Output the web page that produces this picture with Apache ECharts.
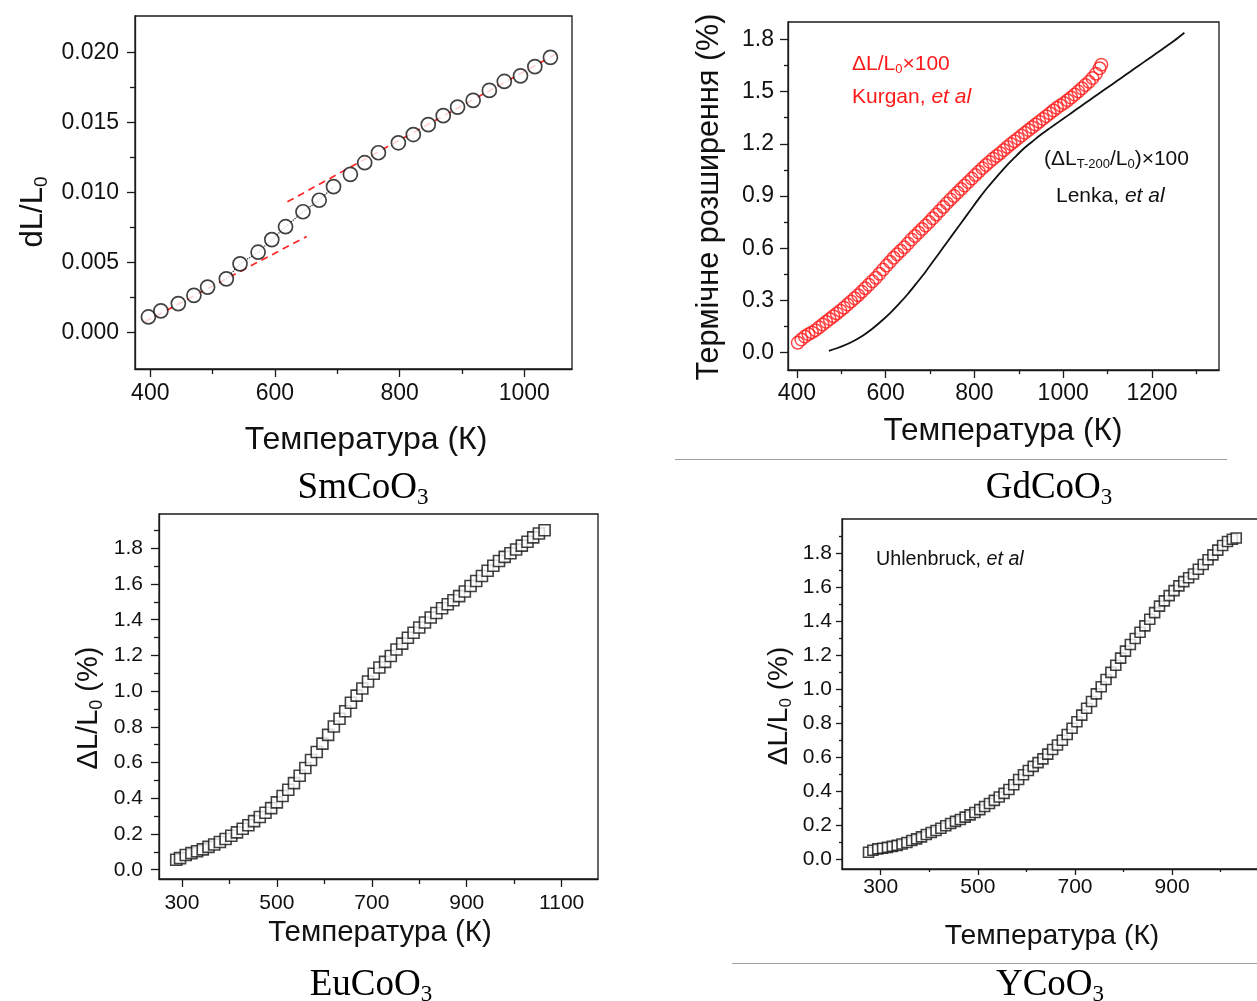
<!DOCTYPE html>
<html><head><meta charset="utf-8">
<script src="https://cdn.jsdelivr.net/npm/echarts@6/dist/echarts.min.js"></script>
<style>html,body{margin:0;padding:0;background:#fff}#c{width:1257px;height:1001px}</style>
</head><body><div id="c"></div>
<script>
// ---------- SmCoO3 ----------
const smT = [397, 417, 445, 470, 492, 522, 544, 573, 595, 617, 645, 671, 694, 721, 744, 766, 798, 822, 846, 870, 893, 918, 944, 968, 994, 1017, 1042];
const smV = [0.00111, 0.00154, 0.00206, 0.00265, 0.00324, 0.00383, 0.00490, 0.00573, 0.00663, 0.00755, 0.00862, 0.00944, 0.01041, 0.01129, 0.01212, 0.01283, 0.01354, 0.01413, 0.01484, 0.01548, 0.01609, 0.01657, 0.01728, 0.01792, 0.01832, 0.01898, 0.01964];
const smFitLowT = [391, 651];
const smFitLowV = [0.00076, 0.00686];
const smFitHighT = [620, 1058];
const smFitHighV = [0.00933, 0.02005];
const smXTicks = [400, 600, 800, 1000];
const smXMinor = [500, 700, 900];
const smYTicks = [0, 0.005, 0.010, 0.015, 0.020];
const smYMinor = [0.0025, 0.0075, 0.0125, 0.0175];

// ---------- GdCoO3 ----------
const gdT = [402, 410, 418, 426, 434, 442, 450, 458, 466, 474, 482, 490, 498, 506, 514, 522, 530, 538, 546, 554, 562, 570, 578, 586, 594, 602, 610, 618, 626, 634, 642, 650, 658, 666, 674, 682, 690, 698, 706, 714, 722, 730, 738, 746, 754, 762, 770, 778, 786, 794, 802, 810, 818, 826, 834, 842, 850, 858, 866, 874, 882, 890, 898, 906, 914, 922, 930, 938, 946, 954, 962, 970, 978, 986, 994, 1002, 1010, 1018, 1026, 1034, 1042, 1050, 1058, 1066, 1074, 1082, 1086];
const gdV = [0.057, 0.075, 0.092, 0.106, 0.116, 0.129, 0.145, 0.161, 0.177, 0.193, 0.209, 0.225, 0.241, 0.258, 0.276, 0.294, 0.312, 0.330, 0.350, 0.370, 0.390, 0.410, 0.430, 0.453, 0.477, 0.500, 0.522, 0.545, 0.565, 0.585, 0.605, 0.627, 0.650, 0.670, 0.690, 0.710, 0.730, 0.750, 0.772, 0.794, 0.815, 0.837, 0.859, 0.880, 0.900, 0.920, 0.940, 0.960, 0.980, 1.000, 1.020, 1.040, 1.060, 1.078, 1.096, 1.114, 1.130, 1.146, 1.164, 1.182, 1.199, 1.215, 1.231, 1.247, 1.263, 1.279, 1.295, 1.311, 1.327, 1.343, 1.359, 1.375, 1.391, 1.407, 1.421, 1.434, 1.450, 1.466, 1.483, 1.501, 1.519, 1.538, 1.556, 1.578, 1.603, 1.634, 1.655];
const lenkaT = [472, 490, 510, 530, 550, 570, 590, 610, 630, 650, 670, 690, 710, 730, 750, 770, 790, 810, 830, 850, 870, 890, 910, 930, 950, 970, 990, 1010, 1030, 1050, 1070, 1090, 1110, 1130, 1150, 1170, 1190, 1210, 1230, 1250, 1273];
const lenkaV = [0.010, 0.025, 0.045, 0.070, 0.100, 0.137, 0.180, 0.227, 0.280, 0.337, 0.400, 0.465, 0.535, 0.605, 0.675, 0.745, 0.815, 0.885, 0.950, 1.010, 1.068, 1.120, 1.170, 1.212, 1.253, 1.290, 1.326, 1.362, 1.398, 1.434, 1.470, 1.506, 1.541, 1.577, 1.613, 1.649, 1.684, 1.720, 1.756, 1.792, 1.838];
const gdXTicks = [400, 600, 800, 1000, 1200];
const gdXMinor = [500, 700, 900, 1100, 1300];
const gdYTicks = [0, 0.3, 0.6, 0.9, 1.2, 1.5, 1.8];
const gdYMinor = [0.15, 0.45, 0.75, 1.05, 1.35, 1.65];

// ---------- EuCoO3 ----------
const euT = [288, 296, 308, 320, 332, 344, 356, 368, 380, 392, 404, 416, 428, 440, 452, 464, 476, 488, 500, 512, 524, 536, 548, 560, 572, 584, 596, 608, 620, 632, 644, 656, 668, 680, 692, 704, 716, 728, 740, 752, 764, 776, 788, 800, 812, 824, 836, 848, 860, 872, 884, 896, 908, 920, 932, 944, 956, 968, 980, 992, 1004, 1016, 1028, 1040, 1052, 1064];
const euV = [0.056, 0.065, 0.082, 0.093, 0.103, 0.114, 0.128, 0.141, 0.155, 0.172, 0.190, 0.209, 0.229, 0.249, 0.272, 0.295, 0.319, 0.345, 0.377, 0.413, 0.448, 0.485, 0.526, 0.570, 0.614, 0.659, 0.706, 0.755, 0.802, 0.845, 0.887, 0.935, 0.975, 1.015, 1.054, 1.097, 1.132, 1.164, 1.197, 1.233, 1.266, 1.299, 1.327, 1.356, 1.384, 1.412, 1.438, 1.464, 1.487, 1.509, 1.532, 1.558, 1.589, 1.617, 1.645, 1.674, 1.702, 1.729, 1.752, 1.772, 1.793, 1.815, 1.837, 1.861, 1.883, 1.901];
const euXTicks = [300, 500, 700, 900, 1100];
const euXMinor = [400, 600, 800, 1000];
const euYTicks = [0, 0.2, 0.4, 0.6, 0.8, 1.0, 1.2, 1.4, 1.6, 1.8];
const euYMinor = [0.1, 0.3, 0.5, 0.7, 0.9, 1.1, 1.3, 1.5, 1.7, 1.9];

// ---------- YCoO3 ----------
const yT = [275, 284, 294, 304, 314, 324, 334, 344, 354, 364, 374, 384, 394, 404, 414, 424, 434, 444, 454, 464, 474, 484, 494, 504, 514, 524, 534, 544, 554, 564, 574, 584, 594, 604, 614, 624, 634, 644, 654, 664, 674, 684, 694, 704, 714, 724, 734, 744, 754, 764, 774, 784, 794, 804, 814, 824, 834, 844, 854, 864, 874, 884, 894, 904, 914, 924, 934, 944, 954, 964, 974, 984, 994, 1004, 1014, 1024, 1032];
const yV = [0.043, 0.055, 0.063, 0.067, 0.072, 0.078, 0.084, 0.092, 0.101, 0.112, 0.122, 0.134, 0.148, 0.159, 0.171, 0.184, 0.199, 0.212, 0.225, 0.236, 0.250, 0.263, 0.277, 0.294, 0.312, 0.330, 0.348, 0.368, 0.389, 0.412, 0.440, 0.471, 0.499, 0.524, 0.548, 0.570, 0.592, 0.620, 0.647, 0.673, 0.701, 0.735, 0.772, 0.810, 0.849, 0.889, 0.929, 0.974, 1.016, 1.058, 1.100, 1.142, 1.184, 1.225, 1.264, 1.299, 1.336, 1.373, 1.412, 1.451, 1.489, 1.520, 1.551, 1.580, 1.608, 1.633, 1.656, 1.678, 1.706, 1.734, 1.762, 1.790, 1.818, 1.845, 1.869, 1.882, 1.889];
const yXTicks = [300, 500, 700, 900];
const yXMinor = [400, 600, 800, 1000];
const yYTicks = [0, 0.2, 0.4, 0.6, 0.8, 1.0, 1.2, 1.4, 1.6, 1.8];
const yYMinor = [0.1, 0.3, 0.5, 0.7, 0.9, 1.1, 1.3, 1.5, 1.7, 1.9];

// ---------- styling ----------
const SANS = "'Liberation Sans', Arial, Helvetica, sans-serif";
const SERIF = "'Liberation Serif', 'Times New Roman', serif";
const AX = '#1a1a1a';

const panels = [
  {grid: {left: 135, top: 16, width: 437, height: 353}, x: [375.5, 1076.6], y: [-0.002607, 0.022593],
   xt: smXTicks, xm: smXMinor, yt: smYTicks, ym: smYMinor, yf: v => v.toFixed(3),
   font: 23, tick: 8, mtick: 5, xMargin: 13, yMargin: 16},
  {grid: {left: 788, top: 22, width: 431, height: 348}, x: [380, 1351], y: [-0.1, 1.9],
   xt: gdXTicks, xm: gdXMinor, yt: gdYTicks, ym: gdYMinor, yf: v => v.toFixed(1),
   font: 23, tick: 8, mtick: 4, xMargin: 12, yMargin: 14},
  {grid: {left: 159, top: 514, width: 439, height: 365}, x: [251.7, 1176.5], y: [-0.052, 1.992],
   xt: euXTicks, xm: euXMinor, yt: euYTicks, ym: euYMinor, yf: v => v.toFixed(1),
   font: 21, tick: 8, mtick: 5, xMargin: 14, yMargin: 16},
  {grid: {left: 842, top: 519, width: 416, height: 350}, x: [220.4, 1076.8], y: [-0.055, 2.001],
   xt: yXTicks, xm: yXMinor, yt: yYTicks, ym: yYMinor, yf: v => v.toFixed(1),
   font: 21, tick: 6, mtick: 3, xMargin: 8, yMargin: 10}
];

const grids = [], xAxes = [], yAxes = [];
panels.forEach((p, i) => {
  grids.push(Object.assign({show: true, borderColor: AX, borderWidth: 1.3, backgroundColor: 'transparent', containLabel: false, outerBoundsMode: 'none'}, p.grid));
  const mk = (dim, min, max, major, minor, fmt, margin) => {
    const pos = dim === 'x' ? 'bottom' : 'left';
    const main = {
      type: 'value', gridIndex: i, min: min, max: max, position: pos,
      axisLine: {show: true, onZero: false, lineStyle: {color: AX, width: 1.3}},
      axisTick: {show: true, inside: false, length: p.tick, customValues: major, lineStyle: {color: AX, width: 1.3}},
      axisLabel: {show: true, customValues: major, formatter: fmt, margin: margin, fontSize: p.font, fontFamily: SANS, color: '#111'},
      splitLine: {show: false}
    };
    const mn = {
      type: 'value', gridIndex: i, min: min, max: max, position: pos,
      axisLine: {show: false, onZero: false},
      axisTick: {show: true, inside: false, length: p.mtick, customValues: minor, lineStyle: {color: AX, width: 1.3}},
      axisLabel: {show: false},
      splitLine: {show: false}
    };
    return [main, mn];
  };
  xAxes.push(...mk('x', p.x[0], p.x[1], p.xt, p.xm, v => String(v), p.xMargin));
  yAxes.push(...mk('y', p.y[0], p.y[1], p.yt, p.ym, p.yf, p.yMargin));
});

const pairs = (a, b) => a.map((t, i) => [t, b[i]]);
const ax = i => ({xAxisIndex: 2 * i, yAxisIndex: 2 * i});

const series = [
  Object.assign({type: 'line', data: pairs(smFitLowT, smFitLowV), symbol: 'none', lineStyle: {color: '#ff2626', width: 1.7, type: [7, 5]}, z: 2}, ax(0)),
  Object.assign({type: 'line', data: pairs(smFitHighT, smFitHighV), symbol: 'none', lineStyle: {color: '#ff2626', width: 1.7, type: [7, 5]}, z: 2}, ax(0)),
  Object.assign({type: 'line', data: pairs(smT.slice(5, 13), smV.slice(5, 13)), symbol: 'none', lineStyle: {color: '#222', width: 1.2, type: 'dotted'}, z: 2}, ax(0)),
  Object.assign({type: 'scatter', data: pairs(smT, smV), symbol: 'circle', symbolSize: 14, itemStyle: {color: '#fff', borderColor: '#111', borderWidth: 1.7}, z: 3}, ax(0)),
  Object.assign({type: 'line', data: pairs(lenkaT, lenkaV), symbol: 'none', smooth: 0.3, lineStyle: {color: '#111', width: 1.8}, z: 2}, ax(1)),
  Object.assign({type: 'scatter', data: pairs(gdT, gdV), symbol: 'circle', symbolSize: 12.5, itemStyle: {color: 'rgba(255,255,255,0)', borderColor: '#ff1a1a', borderWidth: 1.5}, z: 3}, ax(1)),
  Object.assign({type: 'scatter', data: pairs(euT, euV), symbol: 'rect', symbolSize: 11, itemStyle: {color: '#fff', borderColor: '#111', borderWidth: 1.6}, z: 3}, ax(2)),
  Object.assign({type: 'scatter', data: pairs(yT, yV), symbol: 'rect', symbolSize: 10, itemStyle: {color: '#fff', borderColor: '#111', borderWidth: 1.6}, z: 3}, ax(3))
];

function richFor(F, family, color) {
  return {
    m: {fontSize: F, fontFamily: family, fill: color},
    i: {fontSize: F, fontFamily: family, fill: color, fontStyle: 'italic'},
    s: {fontSize: Math.round(F * 0.62), fontFamily: family, fill: color, padding: [Math.round(F * 0.54), 0, 0, 0]}
  };
}
function txt(x, y, text, F, opts) {
  opts = opts || {};
  const family = opts.family || SANS;
  const color = opts.color || '#111';
  const align = opts.align || 'center';
  return {
    type: 'text', x: x, y: y, rotation: opts.rot || 0, silent: true, z: 10,
    style: {text: text, fontSize: F, fontFamily: family, fill: color,
      align: align, textAlign: align, verticalAlign: 'middle', textVerticalAlign: 'middle',
      rich: richFor(F, family, color)}
  };
}
const R = Math.PI / 2;
const graphics = [
  // axis titles
  txt(366, 440, '{m|Температура (К)}', 32),
  txt(33, 212, '{m|dL/L}{s|0}', 31, {rot: R}),
  txt(1003, 431, '{m|Температура (К)}', 31.5),
  txt(710, 197, '{m|Термічне розширення (%)}', 30.6, {rot: R}),
  txt(380, 933, '{m|Температура (К)}', 29.5),
  txt(89, 708, '{m|ΔL/L}{s|0}{m| (%)}', 29, {rot: R}),
  txt(1052, 936, '{m|Температура (К)}', 28.3),
  txt(779, 706, '{m|ΔL/L}{s|0}{m| (%)}', 28, {rot: R}),
  // annotations
  txt(852, 64, '{m|ΔL/L}{s|0}{m|×100}', 21, {color: '#ff1a1a', align: 'left'}),
  txt(852, 97, '{m|Kurgan, }{i|et al}', 21, {color: '#ff1a1a', align: 'left'}),
  txt(1044, 159, '{m|(ΔL}{s|T-200}{m|/L}{s|0}{m|)×100}', 21, {align: 'left'}),
  txt(1056, 196, '{m|Lenka, }{i|et al}', 21, {align: 'left'}),
  txt(876, 560, '{m|Uhlenbruck, }{i|et al}', 19.7, {align: 'left'}),
  // panel titles
  txt(363, 488, '{m|SmCoO}{s|3}', 37, {family: SERIF, color: '#000'}),
  txt(1049, 488, '{m|GdCoO}{s|3}', 37, {family: SERIF, color: '#000'}),
  txt(371, 985, '{m|EuCoO}{s|3}', 37, {family: SERIF, color: '#000'}),
  txt(1050, 985, '{m|YCoO}{s|3}', 37, {family: SERIF, color: '#000'}),
  // separator lines
  {type: 'line', silent: true, shape: {x1: 675, y1: 459.5, x2: 1227, y2: 459.5}, style: {stroke: '#a0a0a0', lineWidth: 1}},
  {type: 'line', silent: true, shape: {x1: 732, y1: 963.5, x2: 1257, y2: 963.5}, style: {stroke: '#a0a0a0', lineWidth: 1}}
];

const chart = echarts.init(document.getElementById('c'), null, {renderer: 'canvas'});
chart.setOption({
  animation: false,
  backgroundColor: '#fff',
  grid: grids, xAxis: xAxes, yAxis: yAxes, series: series, graphic: graphics
});
</script></body></html>
